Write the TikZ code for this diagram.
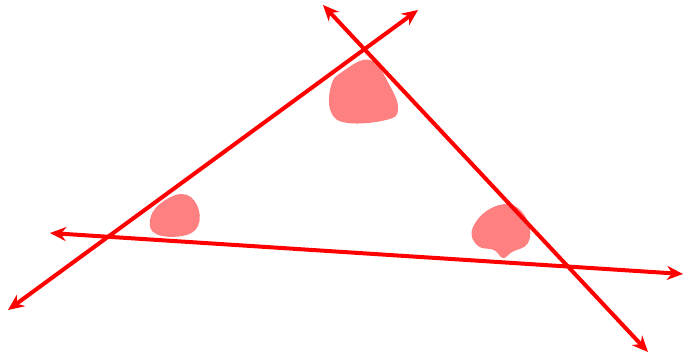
\documentclass[tikz,border=0pt]{standalone}
\usetikzlibrary{arrows.meta}
\definecolor{lred}{RGB}{255,0,0}
\definecolor{blob}{RGB}{255,128,128}
\tikzset{
  ray/.style={draw=lred, line width=2pt, {Stealth[length=8pt,width=7pt]}-{Stealth[length=8pt,width=7pt]}},
  blobfill/.style={fill=blob, draw=none}
}
\begin{document}
\begin{tikzpicture}[x=0.5pt,y=-0.5pt]
\useasboundingbox (0,0) rectangle (684,357);
\coordinate (a1) at (8,310);
\coordinate (a2) at (418,10);
\coordinate (b1) at (323,5);
\coordinate (b2) at (648,352);
\coordinate (c1) at (50,233);
\coordinate (c2) at (683,274);
\fill[blobfill] plot[smooth cycle, tension=0.7] coordinates {(342,72) (370,60) (390,86) (398,110) (386,120) (348,123) (331,112) (331,86)};
\fill[blobfill] plot[smooth cycle, tension=0.7] coordinates {(160,204) (182,194) (197,205) (198,226) (182,236) (156,234) (150,220)};
\fill[blobfill] plot[smooth cycle, tension=0.7] coordinates {(488,210) (512,205) (528,222) (528,243) (512,252) (503,258) (494,250) (478,246) (472,230)};
\draw[ray] (a1) -- (a2);
\draw[ray] (b1) -- (b2);
\draw[ray] (c1) -- (c2);
\end{tikzpicture}
\end{document}
